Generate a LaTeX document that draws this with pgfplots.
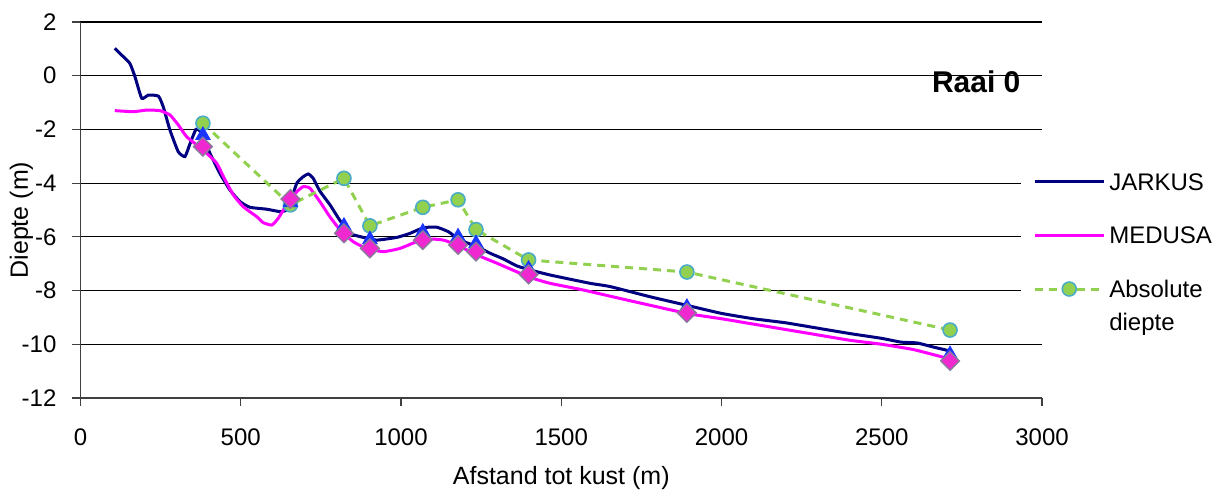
\documentclass[border=0pt]{standalone}
\usepackage{fontspec}
\setmainfont{Liberation Sans}
\usepackage{pgfplots}
\pgfplotsset{compat=1.18}
\definecolor{jarkus}{HTML}{000080}
\definecolor{medusa}{HTML}{FF00FF}
\definecolor{absline}{HTML}{92D050}
\definecolor{absedge}{HTML}{4BACC6}
\definecolor{tri}{HTML}{1A35FF}
\definecolor{dia}{HTML}{F028D0}
\definecolor{diaedge}{HTML}{8A7A9A}
\begin{document}
\begin{tikzpicture}
\path[use as bounding box] (0,0) rectangle (612pt,245.5pt);
\begin{axis}[
  at={(40.25pt,46.5pt)}, anchor=south west,
  scale only axis, width=480.75pt, height=188pt,
  xmin=0, xmax=3000, ymin=-12, ymax=2,
  xtick={0,500,...,3000}, ytick={-12,-10,...,2},
  axis x line*=bottom, axis y line*=left,
  axis line style={-, line width=0.6pt, black!75},
  tick align=outside, major tick length=4pt,
  tick style={black!75, line width=0.6pt},
  ymajorgrids, grid style={black, line width=0.55pt},
  /pgf/number format/assume math mode=true,
  /pgf/number format/set thousands separator={},
  tick label style={font=\fontsize{12}{14}\selectfont},
  xticklabel style={anchor=base, yshift=-20pt},
  yticklabel style={anchor=east, xshift=-4.5pt},
  xlabel={Afstand tot kust (m)},
  ylabel={Diepte (m)},
  label style={font=\fontsize{12.5}{15}\selectfont},
  xlabel style={at={(rel axis cs:0.5,0)}, anchor=base, yshift=-43.5pt},
  ylabel style={at={(rel axis cs:0,0.473)}, anchor=center, yshift=29.5pt},
  legend style={at={(0.978,0.63)}, anchor=north west, fill=white, draw=none,
    font=\fontsize{12}{15}\selectfont, inner xsep=6pt, inner ysep=4pt,
    row sep=12.8pt, column sep=0pt,
    cells={anchor=base west}},
  legend image code/.code={\draw[mark repeat=2,mark phase=2,#1] plot coordinates {(0pt,4.3pt) (17.25pt,4.3pt) (34.5pt,4.3pt)};},
]
\addplot[jarkus, line width=1.5pt, smooth, tension=0.3] coordinates {
(107,1.02) (130,0.75) (154,0.46) (170,-0.04) (191,-0.84) (212,-0.72) (243,-0.76)
(258,-1.15) (279,-2.02) (305,-2.83) (326,-3.01) (342,-2.52) (360,-2.0) (372,-2.05)
(385,-2.35) (404,-2.89) (435,-3.64) (466,-4.25) (498,-4.69) (529,-4.90) (581,-4.97)
(622,-5.06) (643,-5.0) (658,-4.6) (675,-4.0) (695,-3.76) (711,-3.66) (726,-3.82)
(747,-4.3) (778,-4.8) (810,-5.4) (841,-5.87) (872,-5.99) (924,-6.12) (987,-6.02)
(1028,-5.87) (1070,-5.66) (1111,-5.64) (1148,-5.81) (1184,-6.12) (1236,-6.36)
(1278,-6.61) (1319,-6.82) (1361,-7.08) (1402,-7.23) (1465,-7.42) (1590,-7.73)
(1652,-7.85) (1777,-8.23) (1892,-8.55) (2000,-8.85) (2100,-9.05) (2200,-9.2)
(2300,-9.4) (2400,-9.6) (2500,-9.78) (2560,-9.92) (2610,-9.95) (2660,-10.1) (2713,-10.25)
};
\addlegendentry{JARKUS}
\addplot[medusa, line width=1.5pt, smooth, tension=0.3] coordinates {
(107,-1.30) (165,-1.34) (206,-1.28) (248,-1.30) (279,-1.46) (305,-1.83) (331,-2.27)
(363,-2.58) (394,-2.89) (425,-3.26) (446,-3.76) (477,-4.44) (508,-4.88) (550,-5.25)
(570,-5.47) (597,-5.56) (617,-5.31) (643,-4.81) (675,-4.32) (695,-4.13) (716,-4.19)
(747,-4.69) (778,-5.25) (810,-5.74) (851,-6.18) (893,-6.43) (945,-6.55) (997,-6.43)
(1049,-6.18) (1090,-6.08) (1132,-6.12) (1174,-6.30) (1236,-6.67) (1299,-6.98)
(1361,-7.30) (1413,-7.55) (1465,-7.73) (1569,-7.98) (1704,-8.35) (1892,-8.85)
(2000,-9.05) (2100,-9.25) (2200,-9.45) (2300,-9.65) (2400,-9.85) (2500,-10.0)
(2600,-10.2) (2713,-10.55)
};
\addlegendentry{MEDUSA}
\addplot[absline, line width=1.5pt, dash pattern=on 4pt off 3pt,
  mark=*, mark size=3.5pt,
  mark options={solid, fill=absline, draw=absedge, line width=0.8pt}] coordinates {
(382,-1.77) (655,-4.81) (822,-3.82) (903,-5.59) (1068,-4.90) (1178,-4.62)
(1234,-5.73) (1398,-6.86) (1892,-7.31) (2713,-9.47)
};
\addlegendentry{\vtop{\baselineskip=16.5pt\hbox{Absolute}\hbox{diepte}}}
\addplot[only marks, forget plot, mark=triangle*, mark size=4.2pt,
  mark options={fill=tri, draw=tri, line width=0.4pt}] coordinates {
(382,-2.22) (655,-4.72) (822,-5.6) (903,-6.1) (1068,-5.82) (1178,-6.0)
(1234,-6.25) (1398,-7.2) (1892,-8.62) (2713,-10.38)
};
\addplot[only marks, forget plot, mark=square*, mark size=3.3pt,
  mark options={rotate=45, fill=dia, draw=diaedge, line width=0.7pt}] coordinates {
(382,-2.64) (655,-4.59) (822,-5.87) (903,-6.43) (1068,-6.12) (1178,-6.30)
(1234,-6.55) (1398,-7.4) (1892,-8.83) (2713,-10.62)
};
\node[anchor=east, inner sep=0pt, font=\bfseries\fontsize{15}{18}\selectfont] at (rel axis cs:0.978,0.84) {Raai 0};
\end{axis}
\end{tikzpicture}
\end{document}
